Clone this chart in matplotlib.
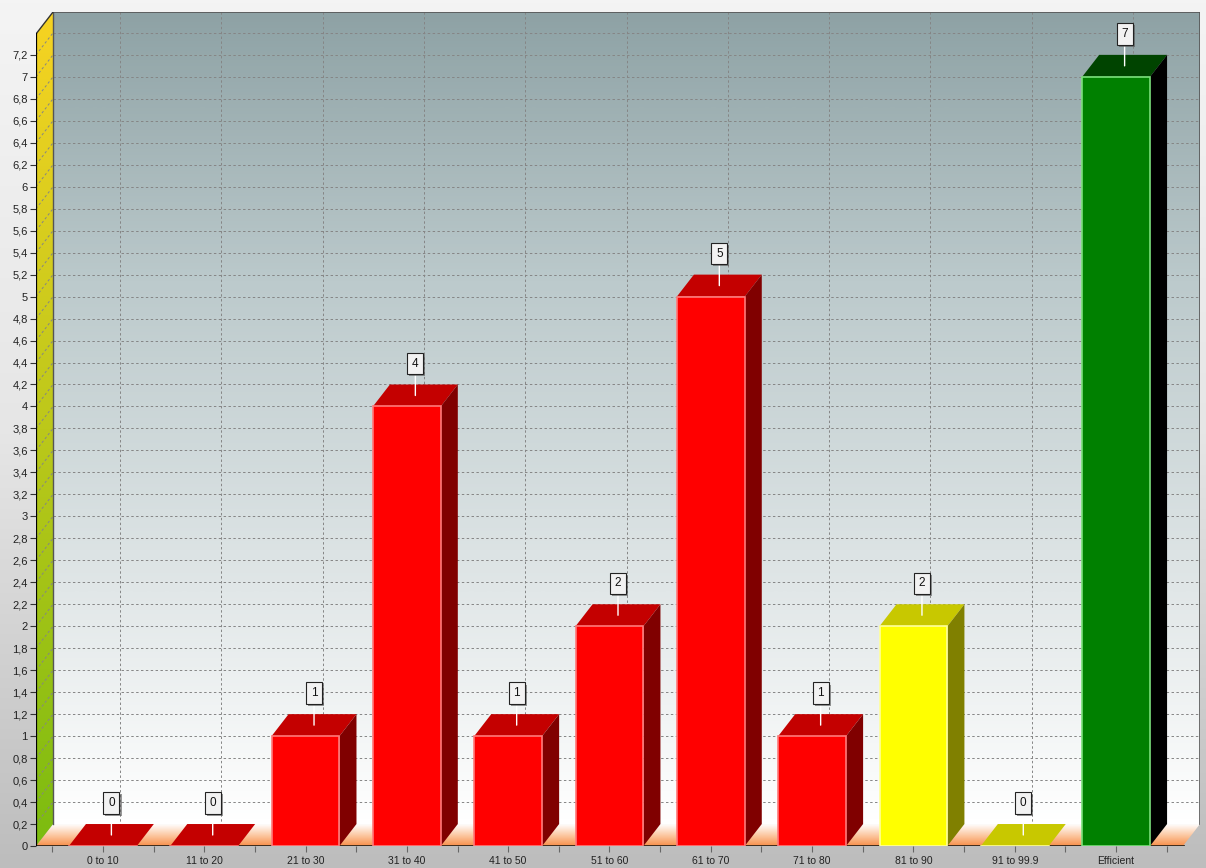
# 3D style bar chart of efficiency bands

import numpy as np
import matplotlib

matplotlib.use("Agg")
import matplotlib.pyplot as plt
import matplotlib.patheffects as pe
from matplotlib.colors import LinearSegmentedColormap
from matplotlib.patches import Polygon
from matplotlib.ticker import FuncFormatter

categories = [
    "0 to 10", "11 to 20", "21 to 30", "31 to 40", "41 to 50", "51 to 60",
    "61 to 70", "71 to 80", "81 to 90", "91 to 99.9", "Efficient",
]
values = [0, 0, 1, 4, 1, 2, 5, 1, 2, 0, 7]
groups = ["low"] * 8 + ["mid", "mid", "ok"]
y_ticks = np.round(np.arange(0, 7.21, 0.2), 1)

# Face colours for each group
PALETTE = {
    "low": dict(front="#ff0000", top="#c40000", side="#800000", edge="#ff7a7a"),
    "mid": dict(front="#ffff00", top="#c8c800", side="#808000", edge="#ffff9a"),
    "ok": dict(front="#008000", top="#004400", side="#000000", edge="#7ae07a"),
}

W = 0.67  # bar width
DX, DY = 0.168, 0.2  # depth offset in data units
X0, X1 = -0.66, len(categories) - 1 + 0.66
YTOP = 7.39

plt.rcParams["font.family"] = ["Liberation Sans", "DejaVu Sans"]


def fill_gradient(ax, verts, colors, zorder):
    poly = Polygon(verts, closed=True, fc="none", ec="none")
    ax.add_patch(poly)
    xs = [v[0] for v in verts]
    ys = [v[1] for v in verts]
    cmap = LinearSegmentedColormap.from_list("g", colors)
    im = ax.imshow(
        np.linspace(0, 1, 256).reshape(-1, 1),
        cmap=cmap,
        extent=(min(xs), max(xs), min(ys), max(ys)),
        origin="lower",
        aspect="auto",
        zorder=zorder,
        interpolation="bilinear",
    )
    im.set_clip_path(poly)


fig = plt.figure(figsize=(12.06, 8.68), dpi=100)

# Figure background
bg = fig.add_axes([0, 0, 1, 1])
bg.axis("off")
bg.imshow(
    np.linspace(0, 1, 256).reshape(-1, 1),
    cmap=LinearSegmentedColormap.from_list("bg", ["#bdbdbd", "#e6e6e6", "#f4f4f4"]),
    extent=(0, 1, 0, 1),
    origin="lower",
    aspect="auto",
)

ax = fig.add_axes([36 / 1206, 22 / 868, 1164 / 1206, 834 / 868])
ax.patch.set_visible(False)
for s in ax.spines.values():
    s.set_visible(False)

# Back wall, floor and left wall
fill_gradient(
    ax,
    [(X0 + DX, DY), (X1 + DX, DY), (X1 + DX, YTOP + DY), (X0 + DX, YTOP + DY)],
    ["#ffffff", "#dce3e4", "#bccacc", "#8ea2a5"],
    0,
)
fill_gradient(
    ax,
    [(X0, 0), (X1, 0), (X1 + DX, DY), (X0 + DX, DY)],
    ["#f8904a", "#fcc9a4", "#ffffff"],
    0.5,
)
fill_gradient(
    ax,
    [(X0, 0), (X0 + DX, DY), (X0 + DX, YTOP + DY), (X0, YTOP)],
    ["#7cbc10", "#bcc81a", "#f7d322"],
    0.5,
)

# Grid lines on back and left walls
grid_kw = dict(color="#858585", lw=0.7, ls=(0, (2.5, 2.5)), zorder=1)
for v in y_ticks[1:]:
    ax.plot([X0 + DX, X1 + DX], [v + DY, v + DY], **grid_kw)
    ax.plot([X0, X0 + DX], [v, v + DY], **grid_kw)
for i in range(len(categories)):
    ax.plot([i + DX, i + DX], [DY * 0.9, YTOP + DY], **grid_kw)

# Frame edges
ax.plot([X0 + DX, X0 + DX], [DY, YTOP + DY], color="#555555", lw=1, zorder=2)
ax.plot([X0 + DX, X1 + DX, X1 + DX], [YTOP + DY, YTOP + DY, DY],
        color="#555555", lw=1.2, zorder=2)
ax.plot([X0, X0 + DX], [YTOP, YTOP + DY], color="#333333", lw=1, zorder=2)
ax.plot([X0, X0], [0, YTOP], color="black", lw=1.6, zorder=6)
ax.plot([X0, X1], [0, 0], color="#2e2218", lw=2, zorder=2)

# Bars
for i, (v, g) in enumerate(zip(values, groups)):
    c = PALETTE[g]
    xl, xr = i - W / 2, i + W / 2
    z = 3 + i * 0.01
    top = Polygon([(xl, v), (xr, v), (xr + DX, v + DY), (xl + DX, v + DY)],
                  closed=True, fc=c["top"], ec="none", zorder=z)
    ax.add_patch(top)
    if v > 0:
        side = Polygon([(xr, 0), (xr + DX, DY), (xr + DX, v + DY), (xr, v)],
                       closed=True, fc=c["side"], ec="none", zorder=z)
        front = Polygon([(xl, 0), (xr, 0), (xr, v), (xl, v)],
                        closed=True, fc=c["front"], ec=c["edge"], lw=1.2, zorder=z)
        ax.add_patch(side)
        ax.add_patch(front)
    else:
        ax.plot([xl, xr], [0, 0], color=c["edge"], lw=1.2, zorder=z + 0.001)

    # Value label with leader line
    t = ax.annotate(
        str(v),
        xy=(i + DX / 2, v + DY / 2),
        xytext=(0, 23),
        textcoords="offset points",
        ha="center",
        va="center",
        fontsize=8.5,
        color="#111111",
        bbox=dict(boxstyle="square,pad=0.4", fc="#f2f2f2", ec="#222222", lw=0.8),
        arrowprops=dict(arrowstyle="-", color="white", lw=1, shrinkA=0, shrinkB=0),
        zorder=10,
    )
    t.get_bbox_patch().set_path_effects(
        [pe.withSimplePatchShadow(offset=(1.5, -1.5), shadow_rgbFace="#555555", alpha=0.6)]
    )

ax.set_xlim(X0, X1 + DX)
ax.set_ylim(0, YTOP + DY)

ax.set_yticks(y_ticks)
ax.yaxis.set_major_formatter(FuncFormatter(lambda v, _: f"{round(v, 1):g}".replace(".", ",")))
ax.set_xticks(range(len(categories)))
ax.set_xticklabels(categories)
ax.set_xticks(np.arange(-0.5, len(categories), 1), minor=True)
ax.tick_params(axis="y", direction="out", length=4, width=0.8, color="#333333",
               labelsize=8, labelcolor="#222222", pad=2)
ax.tick_params(axis="x", which="both", direction="out", length=4, width=0.8,
               color="#666666", labelsize=7.5, labelcolor="#222222", pad=3)

fig.savefig("out.png", dpi=100)
